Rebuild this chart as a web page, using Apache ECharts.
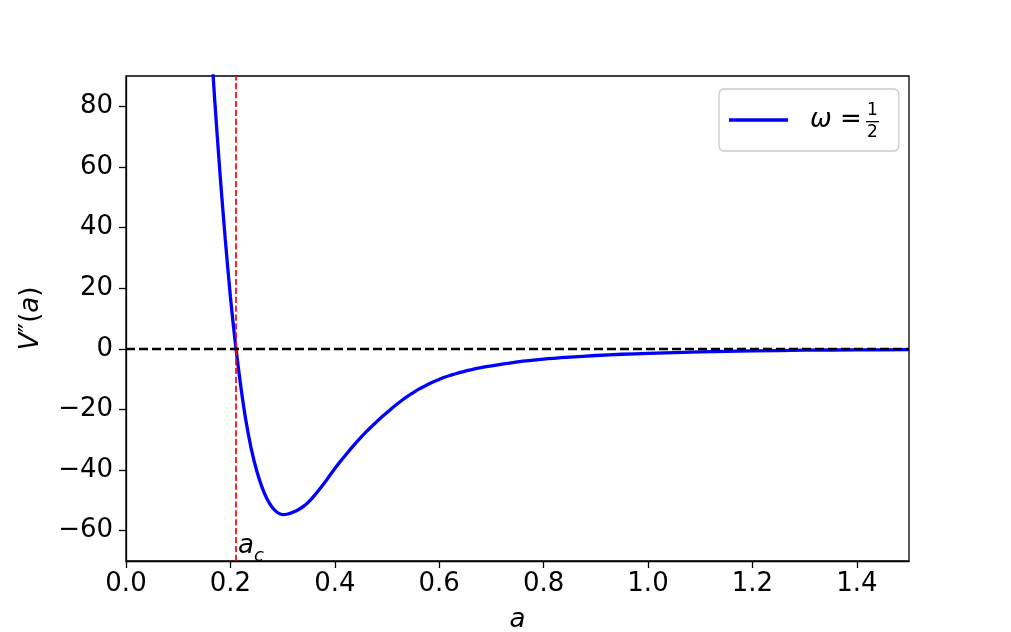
<!DOCTYPE html>
<html>
<head>
<meta charset="utf-8">
<script src="https://cdn.jsdelivr.net/npm/echarts@6/dist/echarts.min.js"></script>
<style>
html,body{margin:0;padding:0;background:#fff;}
#main{width:1011px;height:632px;}
</style>
</head>
<body>
<div id="main"></div>
<script>
// Data
const aValues = [0.16, 0.17, 0.18, 0.19, 0.20, 0.21, 0.22, 0.23, 0.24, 0.25, 0.26, 0.27, 0.28, 0.29, 0.30, 0.31, 0.32, 0.33, 0.34, 0.35, 0.36, 0.37, 0.38, 0.39, 0.40, 0.41, 0.42, 0.43, 0.44, 0.45, 0.46, 0.47, 0.48, 0.49, 0.50, 0.51, 0.52, 0.53, 0.54, 0.55, 0.56, 0.57, 0.58, 0.59, 0.60, 0.61, 0.62, 0.63, 0.64, 0.65, 0.66, 0.67, 0.68, 0.69, 0.70, 0.75, 0.80, 0.85, 0.90, 0.95, 1.00, 1.10, 1.20, 1.30, 1.40, 1.50];
const vValues = [108.5, 82, 58, 36.5, 17.2, 1.0, -12.5, -24.0, -33.0, -40.0, -45.4, -49.5, -52.3, -54.0, -54.7, -54.5, -53.9, -53.1, -52.0, -50.5, -48.6, -46.5, -44.3, -41.9, -39.5, -37.3, -35.2, -33.1, -31.1, -29.2, -27.4, -25.7, -24.1, -22.5, -21.0, -19.5, -18.1, -16.8, -15.6, -14.5, -13.4, -12.5, -11.6, -10.8, -10.1, -9.4, -8.8, -8.3, -7.8, -7.35, -6.95, -6.55, -6.2, -5.9, -5.6, -4.3, -3.4, -2.75, -2.2, -1.8, -1.5, -1.0, -0.7, -0.45, -0.35, -0.3];
const xTicks = [0, 0.2, 0.4, 0.6, 0.8, 1.0, 1.2, 1.4];
const yTicks = [-60, -40, -20, 0, 20, 40, 60, 80];
const aCritical = 0.2107;
const seriesName = 'omega';

const FONT = 'DejaVu Sans';
const chart = echarts.init(document.getElementById('main'), null, {renderer: 'canvas'});
const pts = aValues.map((a, i) => [a, vValues[i]]);

const option = {
  animation: false,
  backgroundColor: '#fff',
  grid: {left: 126, right: 102, top: 76, bottom: 71, show: true, borderColor: '#000', borderWidth: 1.3,
    backgroundColor: 'transparent', outerBoundsMode: 'none', containLabel: false},
  xAxis: {
    type: 'value', min: 0, max: 1.5,
    name: 'a', nameLocation: 'middle', nameGap: 46,
    nameTextStyle: {fontFamily: FONT, fontSize: 26, fontStyle: 'italic', color: '#000'},
    axisLine: {show: true, onZero: false, lineStyle: {color: '#000', width: 1.3}},
    axisTick: {show: true, length: 7, lineStyle: {color: '#000', width: 1.3}, customValues: xTicks},
    axisLabel: {fontFamily: FONT, fontSize: 26, color: '#000', margin: 10, customValues: xTicks,
      formatter: v => v.toFixed(1)},
    splitLine: {show: false}
  },
  yAxis: {
    type: 'value', min: -70, max: 90,
    name: '{i|V}″({i|a})', nameLocation: 'middle', nameGap: 82, nameRotate: 90,
    nameTextStyle: {fontFamily: FONT, fontSize: 26, color: '#000',
      rich: {i: {fontFamily: FONT, fontSize: 26, fontStyle: 'italic', color: '#000'}}},
    axisLine: {show: true, onZero: false, lineStyle: {color: '#000', width: 1.3}},
    axisTick: {show: true, length: 7, lineStyle: {color: '#000', width: 1.3}, customValues: yTicks},
    axisLabel: {fontFamily: FONT, fontSize: 26, color: '#000', margin: 13, customValues: yTicks,
      formatter: v => String(v).replace('-', '\u2212')},
    splitLine: {show: false}
  },
  legend: {
    show: true, left: 719, top: 89, orient: 'horizontal',
    padding: [18, 37, 18, 10],
    itemWidth: 59, itemHeight: 3.3,
    icon: 'rect',
    borderColor: '#cccccc', borderWidth: 1.3, borderRadius: 5,
    backgroundColor: 'rgba(255,255,255,0.8)',
    textStyle: {fontFamily: FONT, fontSize: 26, color: '#000', padding: [0, 0, 0, 17], lineHeight: 26,
      rich: {w: {fontFamily: FONT, fontSize: 26, fontStyle: 'italic', color: '#000', lineHeight: 26},
             e: {fontFamily: FONT, fontSize: 26, color: '#000', lineHeight: 26}}},
    formatter: () => '{w|ω} {e|=}',
    data: [seriesName]
  },
  graphic: [
    {type: 'text', left: 867, top: 102, style: {text: '1', fontFamily: FONT, fontSize: 17, fill: '#000'}, z: 100},
    {type: 'rect', shape: {x: 866, y: 121, width: 13, height: 1.3}, style: {fill: '#000'}, z: 100},
    {type: 'text', left: 867, top: 124, style: {text: '2', fontFamily: FONT, fontSize: 17, fill: '#000'}, z: 100}
  ],
  series: [{
    name: seriesName,
    type: 'line',
    data: pts,
    smooth: 0.25,
    showSymbol: false,
    symbol: 'none',
    clip: true,
    lineStyle: {color: '#0000ff', width: 3.3},
    itemStyle: {color: '#0000ff'},
    z: 3,
    markLine: {
      silent: true, symbol: 'none',
      label: {show: false},
      data: [
        {yAxis: 0, lineStyle: {color: '#000', width: 2.4, type: [9, 4]}},
        {xAxis: aCritical, lineStyle: {color: '#ff0000', width: 1.7, type: [6.2, 2.7]}}
      ]
    },
    markPoint: {
      silent: true, symbol: 'circle', symbolSize: 0,
      data: [{coord: [aCritical, -64.5],
        label: {show: true, position: 'right', distance: 2, formatter: '{a|a}{c|c}',
          rich: {a: {fontFamily: FONT, fontSize: 26, fontStyle: 'italic', color: '#000', lineHeight: 30, verticalAlign: 'bottom'},
                 c: {fontFamily: FONT, fontSize: 18, fontStyle: 'italic', color: '#000', lineHeight: 30, verticalAlign: 'bottom', padding: [0, 0, -6, 0]}}}}]
    }
  }]
};
chart.setOption(option);
</script>
</body>
</html>
